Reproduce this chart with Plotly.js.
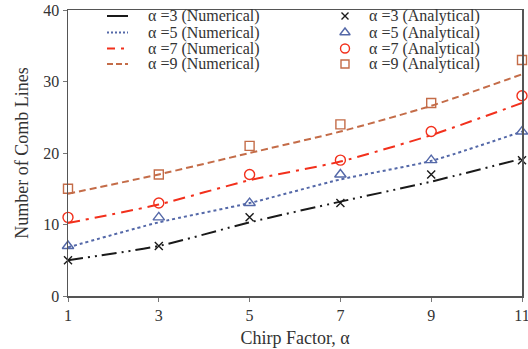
<!DOCTYPE html>
<html><head><meta charset="utf-8">
<script src="https://cdn.plot.ly/plotly-3.0.1.min.js"></script>
<style>html,body{margin:0;padding:0;background:#fff}</style>
</head><body>
<div id="chart" style="width:528px;height:349px"></div>
<script>
const chirp = [1, 3, 5, 7, 9, 11];
const num3 = [5.0, 7.0, 10.3, 13.2, 16.0, 19.2];
const num5 = [6.8, 10.3, 13.0, 16.3, 18.9, 23.0];
const num7 = [10.2, 12.8, 16.2, 18.8, 22.5, 27.0];
const num9 = [14.3, 17.0, 20.0, 23.0, 26.6, 31.0];
const ana3 = [5, 7, 11, 13, 17, 19];
const ana5 = [7, 11, 13, 17, 19, 23];
const ana7 = [11, 13, 17, 19, 23, 28];
const ana9 = [15, 17, 21, 24, 27, 33];
const numNames = ['α =3 (Numerical)', 'α =5 (Numerical)', 'α =7 (Numerical)', 'α =9 (Numerical)'];
const anaNames = ['α =3 (Analytical)', 'α =5 (Analytical)', 'α =7 (Analytical)', 'α =9 (Analytical)'];
const xTicks = [1, 3, 5, 7, 9, 11];
const yTicks = [0, 10, 20, 30, 40];

const font = 'Liberation Serif';
const txt = '#333';
const colors = ['#1a1a1a', '#5468a8', '#f2301c', '#c46c48'];
const dashes = ['15px,5px,2px,5px,2px,5px', 'dot', '12px,6px,3px,6px', '7px,4px'];
const legDashes = ['solid', '2px,2px', '8px,6px,3px,6px', '6px,3px'];
const symbols = ['x-thin-open', 'triangle-up-open', 'circle-open', 'square-open'];
const sizes = [8, 10, 10, 9];
const numSeries = [num3, num5, num7, num9];
const anaSeries = [ana3, ana5, ana7, ana9];

// legend placement (pixel space of an invisible overlay axis)
const leg = {rows: [16, 32.5, 48.5, 64], lineX: [107, 128], text1X: 146, markX: 345, text2X: 367};

const data = [];
numSeries.forEach((y, i) => data.push({x: chirp, y, name: numNames[i], mode: 'lines', type: 'scatter',
  showlegend: false, line: {color: colors[i], dash: dashes[i], width: 2, shape: 'spline', smoothing: 0.6}}));
anaSeries.forEach((y, i) => data.push({x: chirp, y, name: anaNames[i], mode: 'markers', type: 'scatter',
  showlegend: false, cliponaxis: false,
  marker: {color: colors[i], symbol: symbols[i], size: sizes[i], line: {color: colors[i], width: 1.4}}}));
// legend keys
leg.rows.forEach((ry, i) => {
  data.push({x: leg.lineX, y: [ry, ry], xaxis: 'x2', yaxis: 'y2', mode: 'lines', type: 'scatter', showlegend: false,
    line: {color: colors[i], dash: legDashes[i], width: 2}});
  data.push({x: [leg.markX], y: [ry], xaxis: 'x2', yaxis: 'y2', mode: 'markers', type: 'scatter', showlegend: false,
    cliponaxis: false, marker: {color: colors[i], symbol: symbols[i], size: sizes[i] - 1, line: {color: colors[i], width: 1.4}}});
});
const annotations = [];
leg.rows.forEach((ry, i) => {
  annotations.push({x: leg.text1X, y: ry, xref: 'x2', yref: 'y2', text: numNames[i], showarrow: false,
    xanchor: 'left', yanchor: 'middle', font: {family: font, size: 16, color: txt}});
  annotations.push({x: leg.text2X, y: ry, xref: 'x2', yref: 'y2', text: anaNames[i], showarrow: false,
    xanchor: 'left', yanchor: 'middle', font: {family: font, size: 16, color: txt}});
});

const layout = {
  width: 528, height: 349,
  margin: {l: 68, r: 6, t: 10, b: 53},
  paper_bgcolor: '#fff', plot_bgcolor: '#fff',
  font: {family: font, color: txt, size: 16},
  showlegend: false,
  annotations,
  xaxis: {range: [1, 11], tickvals: xTicks, ticktext: xTicks.map(String), showgrid: false, zeroline: false,
    showline: true, linecolor: '#555', linewidth: 1.5, mirror: true, ticks: 'outside', ticklen: 4, tickcolor: '#777',
    ticklabeloverflow: 'allow', automargin: false,
    tickfont: {family: font, size: 16, color: txt},
    title: {text: 'Chirp Factor, α', font: {family: font, size: 18, color: txt}, standoff: 8}},
  yaxis: {range: [0, 40], tickvals: yTicks, ticktext: yTicks.map(String), showgrid: false, zeroline: false,
    showline: true, linecolor: '#555', linewidth: 1.5, mirror: true, ticks: 'outside', ticklen: 4, tickcolor: '#777',
    automargin: false,
    tickfont: {family: font, size: 16, color: txt},
    title: {text: 'Number of Comb Lines', font: {family: font, size: 18, color: txt}, standoff: 10}},
  xaxis2: {overlaying: 'x', range: [68, 522], visible: false, fixedrange: true},
  yaxis2: {overlaying: 'y', range: [296, 10], visible: false, fixedrange: true}
};
Plotly.newPlot('chart', data, layout, {displayModeBar: false, staticPlot: true});
</script>
</body></html>
